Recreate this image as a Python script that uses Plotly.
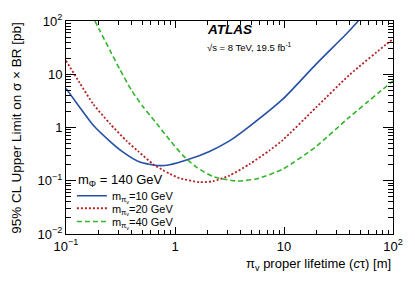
import plotly.graph_objects as go

# ---- data ----
ctau_10 = [0.1, 0.134, 0.178, 0.253, 0.324, 0.475, 0.70, 0.895, 1.36, 2.07, 3.16, 4.82, 9.73, 19.7, 39.6, 48.0]
limit_10 = [5.4, 2.38, 1.10, 0.55, 0.361, 0.225, 0.193, 0.200, 0.255, 0.355, 0.56, 1.05, 3.4, 15.5, 65.0, 100.0]

ctau_20 = [0.1, 0.134, 0.178, 0.253, 0.359, 0.458, 0.63, 0.776, 0.895, 1.10, 1.68, 2.23, 3.16, 4.82, 7.35, 9.73, 19.7, 39.6, 85.9, 100.0]
limit_20 = [18.0, 6.8, 2.75, 1.18, 0.56, 0.36, 0.205, 0.158, 0.135, 0.112, 0.094, 0.098, 0.125, 0.205, 0.37, 0.58, 2.38, 9.6, 36.0, 46.0]

ctau_40 = [0.184, 0.205, 0.253, 0.312, 0.399, 0.509, 0.676, 0.895, 1.18, 1.57, 2.23, 3.65, 5.56, 9.73, 19.7, 39.6, 100.0]
limit_40 = [100.0, 65.0, 28.0, 12.3, 5.0, 2.45, 1.2, 0.58, 0.30, 0.18, 0.12, 0.099, 0.108, 0.165, 0.44, 1.55, 7.5]

series_names = ["m<sub>π<sub>v</sub></sub>=10 GeV", "m<sub>π<sub>v</sub></sub>=20 GeV", "m<sub>π<sub>v</sub></sub>=40 GeV"]

x_tickvals = [0.1, 1, 10, 100]
x_ticktext = ["10<sup>−1</sup>", "1", "10", "10<sup>2</sup>"]
y_tickvals = [0.01, 0.1, 1, 10, 100]
y_ticktext = ["10<sup>−2</sup>", "10<sup>−1</sup>", "1", "10", "10<sup>2</sup>"]

FONT = "Liberation Sans, Arial, sans-serif"

fig = go.Figure()
styles = [
    dict(color="#2650a6", width=1.6, dash="solid"),
    dict(color="#b22222", width=1.8, dash="2px,2px"),
    dict(color="#33b52a", width=1.6, dash="5px,3px"),
]
legend_ids = ["legend", "legend2", "legend3"]
for xs, ys, name, st, lg in zip([ctau_10, ctau_20, ctau_40], [limit_10, limit_20, limit_40],
                                series_names, styles, legend_ids):
    fig.add_trace(go.Scatter(x=xs, y=ys, mode="lines", name=name, legend=lg,
                             line=dict(shape="spline", smoothing=0.6, **st)))

minor_x = [m * 10 ** e for e in range(-1, 2) for m in range(2, 10)]
minor_y = [m * 10 ** e for e in range(-2, 2) for m in range(2, 10)]


def legend_box(ytop):
    return dict(x=0.018, y=ytop, xanchor="left", yanchor="top",
                bgcolor="rgba(0,0,0,0)", borderwidth=0,
                font=dict(size=11, family=FONT), itemwidth=30)


fig.update_layout(
    width=415, height=281,
    margin=dict(l=66, r=21, t=14, b=47),
    paper_bgcolor="white", plot_bgcolor="white",
    font=dict(family=FONT, color="black", size=13),
    showlegend=True,
    legend=legend_box(0.248),
    legend2=legend_box(0.189),
    legend3=legend_box(0.127),
    xaxis=dict(
        type="log", range=[-1, 2],
        showline=True, linecolor="black", linewidth=1, mirror="ticks",
        ticks="inside", ticklen=7, tickcolor="black", tickwidth=1,
        tickmode="array", tickvals=x_tickvals, ticktext=x_ticktext,
        tickfont=dict(size=13), showgrid=False, zeroline=False,
        minor=dict(ticks="inside", ticklen=4, tickcolor="black", tickmode="array",
                   tickvals=minor_x, showgrid=False),
    ),
    yaxis=dict(
        type="log", range=[-2, 2],
        showline=True, linecolor="black", linewidth=1, mirror="ticks",
        ticks="inside", ticklen=10, tickcolor="black", tickwidth=1,
        tickmode="array", tickvals=y_tickvals, ticktext=y_ticktext,
        tickfont=dict(size=13), showgrid=False, zeroline=False,
        minor=dict(ticks="inside", ticklen=5, tickcolor="black", tickmode="array",
                   tickvals=minor_y, showgrid=False),
    ),
)

# legend title
fig.add_annotation(xref="paper", yref="paper", x=0.03, y=0.25, xanchor="left", yanchor="middle",
                   text="m<sub>Φ</sub> = 140 GeV", showarrow=False, font=dict(size=13, family=FONT))
fig.add_annotation(xref="paper", yref="paper", x=1.0, y=-0.145, xanchor="right", yanchor="middle",
                   text="π<sub>v</sub> proper lifetime (<i>c</i>τ) [m]", showarrow=False,
                   font=dict(size=13, family=FONT))
fig.add_annotation(xref="paper", yref="paper", x=-0.152, y=0.5, xanchor="center", yanchor="middle",
                   textangle=-90, text="95% CL Upper Limit on σ × BR [pb]", showarrow=False,
                   font=dict(size=13.5, family=FONT))
fig.add_annotation(xref="paper", yref="paper", x=0.425, y=0.96, xanchor="left", yanchor="middle",
                   text="<b><i>ATLAS</i></b>", showarrow=False, font=dict(size=13.5, family=FONT))
fig.add_annotation(xref="paper", yref="paper", x=0.425, y=0.88, xanchor="left", yanchor="middle",
                   text="√s = 8 TeV, 19.5 fb<sup>-1</sup>", showarrow=False, font=dict(size=9.5, family=FONT))

fig.write_html("out.html", config={"displayModeBar": False},
               post_script="document.body.style.margin='0';document.body.style.overflow='hidden';")
